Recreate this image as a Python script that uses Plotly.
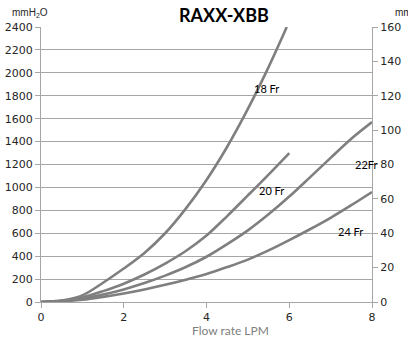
import plotly.graph_objects as go

# Data
flow_18 = [0, 0.5, 1, 1.5, 2, 2.5, 3, 3.5, 4, 4.5, 5, 5.5, 5.94]
p_18 = [0, 12, 58, 168, 292, 428, 600, 815, 1065, 1355, 1685, 2050, 2400]

flow_20 = [0, 0.5, 1, 1.5, 2, 2.5, 3, 3.5, 4, 4.5, 5, 5.5, 6]
p_20 = [0, 10, 40, 95, 160, 240, 335, 445, 580, 750, 930, 1112, 1300]

flow_22 = [0, 0.5, 1, 1.5, 2, 2.5, 3, 3.5, 4, 4.5, 5, 5.5, 6, 6.5, 7, 7.5, 8]
p_22 = [0, 8, 30, 65, 110, 165, 230, 305, 395, 505, 625, 765, 920, 1088, 1258, 1425, 1570]

flow_24 = [0, 0.5, 1, 1.5, 2, 2.5, 3, 3.5, 4, 4.5, 5, 5.5, 6, 6.5, 7, 7.5, 8]
p_24 = [0, 6, 20, 45, 75, 110, 150, 195, 245, 305, 370, 450, 540, 635, 735, 845, 960]

series = [("18 Fr", flow_18, p_18), ("20 Fr", flow_20, p_20),
          ("22Fr", flow_22, p_22), ("24 Fr", flow_24, p_24)]

# label positions (data coords)
label_names = ["18 Fr", "20 Fr", "22Fr", "24 Fr"]
label_x = [5.46, 5.58, 7.86, 7.47]
label_y = [1859, 977, 1196, 611]

x_ticks = [0, 2, 4, 6, 8]
left_ticks = list(range(0, 2401, 200))
right_ticks = list(range(0, 161, 20))

LINE = "#7f7f7f"
GRID = "#a6a6a6"
TXT = "#262626"

L, R, T, B = 41, 36, 27, 42
W, H = 408, 344
pw, ph = W - L - R, H - T - B


def px2paper(px, py):
    return (px - L) / pw, (H - B - py) / ph


fig = go.Figure()
for name, xs, ys in series:
    fig.add_trace(go.Scatter(x=xs, y=ys, mode="lines", name=name,
                             line=dict(color=LINE, width=2.6, shape="spline", smoothing=0.9),
                             showlegend=False, hoverinfo="skip"))
# invisible trace for right axis
fig.add_trace(go.Scatter(x=[0], y=[0], yaxis="y2", mode="markers",
                         marker=dict(opacity=0), showlegend=False, hoverinfo="skip"))

for n, lx, ly in zip(label_names, label_x, label_y):
    fig.add_annotation(x=lx, y=ly, xref="x", yref="y", text=n, showarrow=False,
                       font=dict(family="Lato", size=11, color="#000000"),
                       xanchor="center", yanchor="middle")

ax, ay = px2paper(224, 15)
fig.add_annotation(x=ax, y=ay, xref="paper", yref="paper", text="<b>RAXX-XBB</b>",
                   showarrow=False, xanchor="center", yanchor="middle",
                   font=dict(family="Lato", size=18, color="#000000"))
ax, ay = px2paper(10, 13)
fig.add_annotation(x=ax, y=ay, xref="paper", yref="paper", text="mmH<sub>2</sub>O",
                   showarrow=False, xanchor="left", yanchor="middle",
                   font=dict(family="Liberation Sans", size=10, color=TXT))
ax, ay = px2paper(393, 13)
fig.add_annotation(x=ax, y=ay, xref="paper", yref="paper", text="mmH<sub>2</sub>O",
                   showarrow=False, xanchor="left", yanchor="middle",
                   font=dict(family="Liberation Sans", size=10, color=TXT))
ax, ay = px2paper(230, 330)
fig.add_annotation(x=ax, y=ay, xref="paper", yref="paper", text="Flow rate LPM",
                   showarrow=False, xanchor="center", yanchor="middle",
                   font=dict(family="Lato", size=12, color="#808080"))

fig.update_layout(
    width=W, height=H,
    margin=dict(l=L, r=R, t=T, b=B, autoexpand=False),
    paper_bgcolor="white", plot_bgcolor="white",
    font=dict(family="DejaVu Sans", size=11, color=TXT),
    xaxis=dict(range=[0, 8], tickvals=x_ticks, showgrid=False, zeroline=False,
               showline=True, linecolor=GRID, linewidth=1, ticks="outside",
               ticklen=5, tickcolor=GRID, tickfont=dict(size=11), automargin=False),
    yaxis=dict(range=[0, 2400], tickvals=left_ticks, showgrid=True, gridcolor=GRID,
               gridwidth=1, zeroline=False, showline=True, linecolor=GRID,
               ticks="outside", ticklen=5, tickcolor=GRID, tickfont=dict(size=11),
               automargin=False),
    yaxis2=dict(range=[0, 160], tickvals=right_ticks, overlaying="y", side="right",
                showgrid=False, zeroline=False, showline=True, linecolor=GRID,
                ticks="outside", ticklen=5, tickcolor=GRID, tickfont=dict(size=11),
                automargin=False),
)

fig.write_html("out.html")
